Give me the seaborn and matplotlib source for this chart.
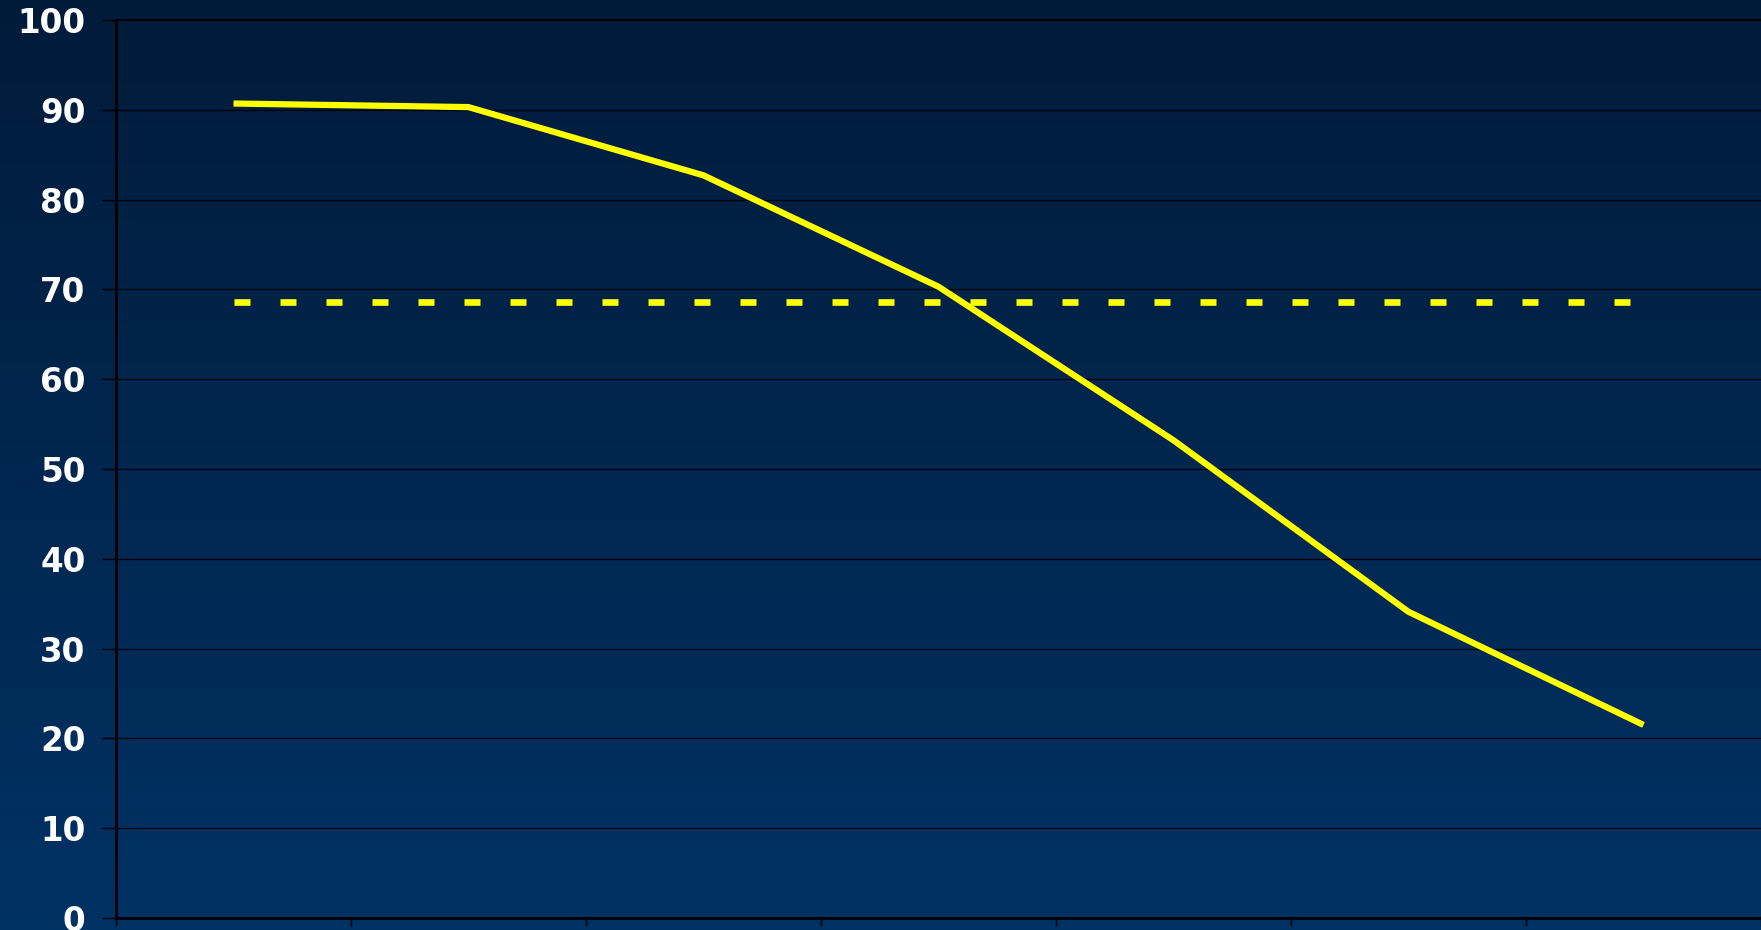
import numpy as np
import pandas as pd
import matplotlib
matplotlib.use("Agg")
import matplotlib.pyplot as plt
import seaborn as sns
from matplotlib.colors import LinearSegmentedColormap

# ---- data ----
categories = ["1", "2", "3", "4", "5", "6", "7"]
values = [90.7, 90.3, 82.7, 70.3, 53.2, 34.1, 21.5]
target = [68.6] * 7
y_ticks = [0, 10, 20, 30, 40, 50, 60, 70, 80, 90, 100]

sns.set_theme(style="white")
plt.rcParams['font.family'] = ['DejaVu Sans']

fig = plt.figure(figsize=(17.61, 9.30), dpi=100)

# gradient background
bg = fig.add_axes([0, 0, 1, 1], zorder=-10)
cmap = LinearSegmentedColormap.from_list("bg", ["#001b3a", "#003264"])
grad = np.linspace(0, 1, 256).reshape(-1, 1)
bg.imshow(grad, aspect="auto", cmap=cmap, extent=[0, 1, 0, 1], origin="upper")
bg.set_axis_off()

ax = fig.add_axes([116/1761, 1 - 918/930, 1 - 116/1761, (918 - 20)/930])
ax.set_facecolor("none")

x = np.arange(len(categories))
df = pd.DataFrame({"x": x, "value": values, "target": target})

sns.lineplot(data=df, x="x", y="value", ax=ax, color="#ffff00", linewidth=4.5,
             solid_capstyle="butt", solid_joinstyle="miter", zorder=5)
sns.lineplot(data=df, x="x", y="target", ax=ax, color="#ffff00", linewidth=4.8,
             linestyle=(0, (2.4, 4.5)), zorder=4)

ax.set_xlim(-0.5, len(categories) - 0.5)
ax.set_ylim(0, 100)
ax.set_yticks(y_ticks)
ax.set_yticklabels([str(v) for v in y_ticks])
ax.set_xticks(np.arange(-0.5, len(categories), 1.0))
ax.set_xticklabels([])
ax.set_xlabel("")
ax.set_ylabel("")

ax.grid(axis="y", color="black", linewidth=0.9, zorder=1)
ax.grid(axis="x", visible=False)
ax.set_axisbelow(True)

for s in ["left", "bottom"]:
    ax.spines[s].set_color("black")
    ax.spines[s].set_linewidth(2.0)
ax.spines["right"].set_visible(False)
ax.spines["top"].set_color("black")
ax.spines["top"].set_linewidth(1.5)

ax.tick_params(axis="y", which="major", length=10, width=1.0, color="black",
               pad=12, labelsize=23.5, labelcolor="white", direction="out", left=True)
ax.tick_params(axis="x", which="major", length=6, width=1.0, color="black",
               direction="out", bottom=True)
for lbl in ax.get_yticklabels():
    lbl.set_fontweight("bold")
ax.legend_ = None

fig.savefig("out.png", dpi=100)
